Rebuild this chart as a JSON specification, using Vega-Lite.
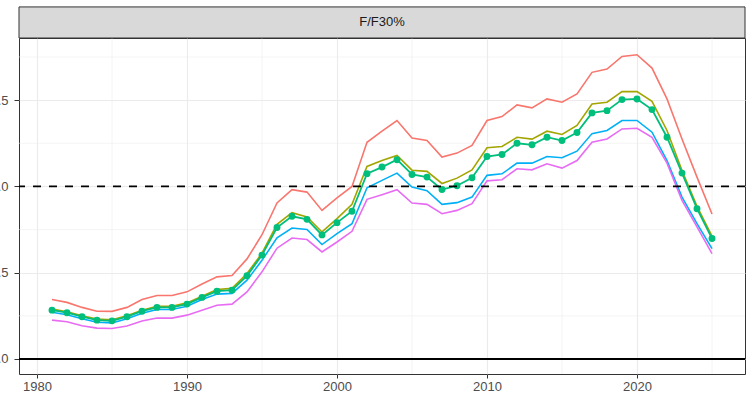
{
  "$schema": "https://vega.github.io/schema/vega-lite/v6.json",
  "width": 726,
  "height": 336,
  "autosize": {"type": "none"},
  "padding": {"left": 19, "top": 38, "right": 5, "bottom": 27},
  "background": "white",
  "config": {
    "view": {"stroke": "#333333", "strokeWidth": 1},
    "font": "Liberation Sans"
  },
  "data": {
    "values": [
      {"year": 1981, "s1": 0.345, "s2": 0.289, "s3": 0.283, "s4": 0.271, "s5": 0.225},
      {"year": 1982, "s1": 0.328, "s2": 0.274, "s3": 0.268, "s4": 0.256, "s5": 0.216},
      {"year": 1983, "s1": 0.299, "s2": 0.251, "s3": 0.245, "s4": 0.233, "s5": 0.193},
      {"year": 1984, "s1": 0.277, "s2": 0.231, "s3": 0.225, "s4": 0.213, "s5": 0.179},
      {"year": 1985, "s1": 0.276, "s2": 0.227, "s3": 0.221, "s4": 0.209, "s5": 0.177},
      {"year": 1986, "s1": 0.299, "s2": 0.251, "s3": 0.245, "s4": 0.233, "s5": 0.191},
      {"year": 1987, "s1": 0.345, "s2": 0.283, "s3": 0.277, "s4": 0.265, "s5": 0.220},
      {"year": 1988, "s1": 0.368, "s2": 0.305, "s3": 0.299, "s4": 0.287, "s5": 0.237},
      {"year": 1989, "s1": 0.368, "s2": 0.305, "s3": 0.299, "s4": 0.287, "s5": 0.237},
      {"year": 1990, "s1": 0.389, "s2": 0.325, "s3": 0.318, "s4": 0.306, "s5": 0.254},
      {"year": 1991, "s1": 0.434, "s2": 0.364, "s3": 0.357, "s4": 0.345, "s5": 0.283},
      {"year": 1992, "s1": 0.476, "s2": 0.403, "s3": 0.393, "s4": 0.376, "s5": 0.311},
      {"year": 1993, "s1": 0.484, "s2": 0.409, "s3": 0.399, "s4": 0.380, "s5": 0.318},
      {"year": 1994, "s1": 0.580, "s2": 0.495, "s3": 0.482, "s4": 0.457, "s5": 0.389},
      {"year": 1995, "s1": 0.720, "s2": 0.613, "s3": 0.602, "s4": 0.572, "s5": 0.505},
      {"year": 1996, "s1": 0.904, "s2": 0.780, "s3": 0.762, "s4": 0.702, "s5": 0.642},
      {"year": 1997, "s1": 0.981, "s2": 0.848, "s3": 0.827, "s4": 0.759, "s5": 0.701},
      {"year": 1998, "s1": 0.967, "s2": 0.823, "s3": 0.809, "s4": 0.750, "s5": 0.692},
      {"year": 1999, "s1": 0.861, "s2": 0.736, "s3": 0.719, "s4": 0.663, "s5": 0.620},
      {"year": 2000, "s1": 0.934, "s2": 0.813, "s3": 0.790, "s4": 0.726, "s5": 0.678},
      {"year": 2001, "s1": 1.000, "s2": 0.896, "s3": 0.856, "s4": 0.784, "s5": 0.740},
      {"year": 2002, "s1": 1.256, "s2": 1.116, "s3": 1.074, "s4": 0.992, "s5": 0.925},
      {"year": 2003, "s1": 1.320, "s2": 1.150, "s3": 1.112, "s4": 1.035, "s5": 0.952},
      {"year": 2004, "s1": 1.382, "s2": 1.179, "s3": 1.155, "s4": 1.077, "s5": 0.981},
      {"year": 2005, "s1": 1.281, "s2": 1.094, "s3": 1.069, "s4": 0.996, "s5": 0.904},
      {"year": 2006, "s1": 1.266, "s2": 1.087, "s3": 1.054, "s4": 0.975, "s5": 0.896},
      {"year": 2007, "s1": 1.170, "s2": 1.017, "s3": 0.982, "s4": 0.896, "s5": 0.842},
      {"year": 2008, "s1": 1.193, "s2": 1.048, "s3": 1.004, "s4": 0.906, "s5": 0.861},
      {"year": 2009, "s1": 1.237, "s2": 1.096, "s3": 1.050, "s4": 0.938, "s5": 0.900},
      {"year": 2010, "s1": 1.382, "s2": 1.224, "s3": 1.173, "s4": 1.064, "s5": 1.032},
      {"year": 2011, "s1": 1.405, "s2": 1.231, "s3": 1.185, "s4": 1.073, "s5": 1.039},
      {"year": 2012, "s1": 1.472, "s2": 1.285, "s3": 1.250, "s4": 1.135, "s5": 1.102},
      {"year": 2013, "s1": 1.455, "s2": 1.274, "s3": 1.241, "s4": 1.135, "s5": 1.096},
      {"year": 2014, "s1": 1.507, "s2": 1.320, "s3": 1.285, "s4": 1.173, "s5": 1.131},
      {"year": 2015, "s1": 1.488, "s2": 1.301, "s3": 1.266, "s4": 1.166, "s5": 1.106},
      {"year": 2016, "s1": 1.536, "s2": 1.353, "s3": 1.312, "s4": 1.204, "s5": 1.150},
      {"year": 2017, "s1": 1.661, "s2": 1.478, "s3": 1.426, "s4": 1.306, "s5": 1.256},
      {"year": 2018, "s1": 1.680, "s2": 1.488, "s3": 1.439, "s4": 1.324, "s5": 1.275},
      {"year": 2019, "s1": 1.753, "s2": 1.549, "s3": 1.503, "s4": 1.382, "s5": 1.333},
      {"year": 2020, "s1": 1.763, "s2": 1.549, "s3": 1.507, "s4": 1.382, "s5": 1.337},
      {"year": 2021, "s1": 1.686, "s2": 1.493, "s3": 1.445, "s4": 1.314, "s5": 1.285},
      {"year": 2022, "s1": 1.507, "s2": 1.324, "s3": 1.285, "s4": 1.150, "s5": 1.135},
      {"year": 2023, "s1": 1.275, "s2": 1.092, "s3": 1.077, "s4": 0.938, "s5": 0.919},
      {"year": 2024, "s1": 1.054, "s2": 0.884, "s3": 0.871, "s4": 0.784, "s5": 0.765},
      {"year": 2025, "s1": 0.840, "s2": 0.712, "s3": 0.698, "s4": 0.640, "s5": 0.611}
    ]
  },
  "transform": [
    {"fold": ["s1", "s2", "s3", "s4", "s5"], "as": ["series", "value"]}
  ],
  "layer": [
    {
      "data": {"values": [{"minor": 1985}, {"minor": 1995}, {"minor": 2005}, {"minor": 2015}, {"minor": 2025}]},
      "mark": {"type": "rule", "color": "#EBEBEB", "strokeWidth": 0.55},
      "encoding": {
        "x": {
          "field": "minor", "type": "quantitative", "title": null,
          "scale": {"domain": [1978.8, 2027.2], "nice": false, "zero": false},
          "axis": {
            "title": null,
            "values": [1980, 1990, 2000, 2010, 2020],
            "format": "d",
            "labelFlush": false,
            "labelColor": "#4D4D4D",
            "labelFontSize": 13,
            "labelFont": "Liberation Sans",
            "labelPadding": 2,
            "domain": false,
            "grid": true,
            "gridColor": "#EBEBEB",
            "gridWidth": 1.1,
            "tickColor": "#333333",
            "tickSize": 4,
            "tickWidth": 1
          }
        }
      }
    },
    {
      "data": {"values": [{"minor": 0.25}, {"minor": 0.75}, {"minor": 1.25}, {"minor": 1.75}]},
      "mark": {"type": "rule", "color": "#EBEBEB", "strokeWidth": 0.55},
      "encoding": {
        "y": {
          "field": "minor", "type": "quantitative", "title": null,
          "scale": {"domain": [-0.087, 1.86], "nice": false, "zero": false},
          "axis": {
            "title": null,
            "values": [0, 0.5, 1, 1.5],
            "format": ".1f",
            "labelColor": "#4D4D4D",
            "labelFontSize": 13,
            "labelFont": "Liberation Sans",
            "labelPadding": 6,
            "domain": false,
            "grid": true,
            "gridColor": "#EBEBEB",
            "gridWidth": 1.1,
            "tickColor": "#333333",
            "tickSize": 5,
            "tickWidth": 1
          }
        }
      }
    },
    {
      "transform": [{"filter": "datum.series != 's3'"}],
      "mark": {"type": "line", "strokeWidth": 1.6},
      "encoding": {
        "x": {"field": "year", "type": "quantitative", "title": null, "scale": {"domain": [1978.8, 2027.2], "nice": false, "zero": false}},
        "y": {"field": "value", "type": "quantitative", "title": null, "scale": {"domain": [-0.087, 1.86], "nice": false, "zero": false}},
        "color": {
          "field": "series", "type": "nominal",
          "scale": {"domain": ["s1", "s2", "s3", "s4", "s5"], "range": ["#F8766D", "#A3A500", "#00BF7D", "#00B0F6", "#E76BF3"]},
          "legend": null
        }
      }
    },
    {
      "transform": [{"filter": "datum.series == 's3'"}],
      "mark": {"type": "line", "strokeWidth": 1.8, "point": {"filled": true, "size": 48, "opacity": 1}},
      "encoding": {
        "x": {"field": "year", "type": "quantitative", "title": null, "scale": {"domain": [1978.8, 2027.2], "nice": false, "zero": false}},
        "y": {"field": "value", "type": "quantitative", "title": null, "scale": {"domain": [-0.087, 1.86], "nice": false, "zero": false}},
        "color": {"field": "series", "type": "nominal", "legend": null}
      }
    },
    {
      "data": {"values": [{"level": 1}]},
      "mark": {"type": "rule", "color": "black", "strokeWidth": 1.7, "strokeDash": [8, 8]},
      "encoding": {
        "y": {"field": "level", "type": "quantitative", "title": null, "scale": {"domain": [-0.087, 1.86], "nice": false, "zero": false}}
      }
    },
    {
      "data": {"values": [{"level": 0}]},
      "mark": {"type": "rule", "color": "black", "strokeWidth": 2},
      "encoding": {
        "y": {"field": "level", "type": "quantitative", "title": null, "scale": {"domain": [-0.087, 1.86], "nice": false, "zero": false}}
      }
    },
    {
      "data": {"values": [{"panel": "F/F30%"}]},
      "mark": {"type": "rect", "fill": "#D9D9D9", "stroke": "#333333", "strokeWidth": 1, "clip": false},
      "encoding": {
        "x": {"datum": 1978.8, "type": "quantitative", "title": null, "scale": {"domain": [1978.8, 2027.2], "nice": false, "zero": false}},
        "x2": {"datum": 2027.2},
        "y": {"datum": 1.86, "type": "quantitative", "title": null, "scale": {"domain": [-0.087, 1.86], "nice": false, "zero": false}},
        "y2": {"datum": 2.04}
      }
    },
    {
      "data": {"values": [{"panel": "F/F30%"}]},
      "mark": {"type": "text", "fontSize": 13, "color": "#1A1A1A", "font": "Liberation Sans", "baseline": "middle", "align": "center", "clip": false},
      "encoding": {
        "x": {"datum": 2003, "type": "quantitative", "title": null, "scale": {"domain": [1978.8, 2027.2], "nice": false, "zero": false}},
        "y": {"datum": 1.95, "type": "quantitative", "title": null, "scale": {"domain": [-0.087, 1.86], "nice": false, "zero": false}},
        "text": {"field": "panel"}
      }
    }
  ]
}
